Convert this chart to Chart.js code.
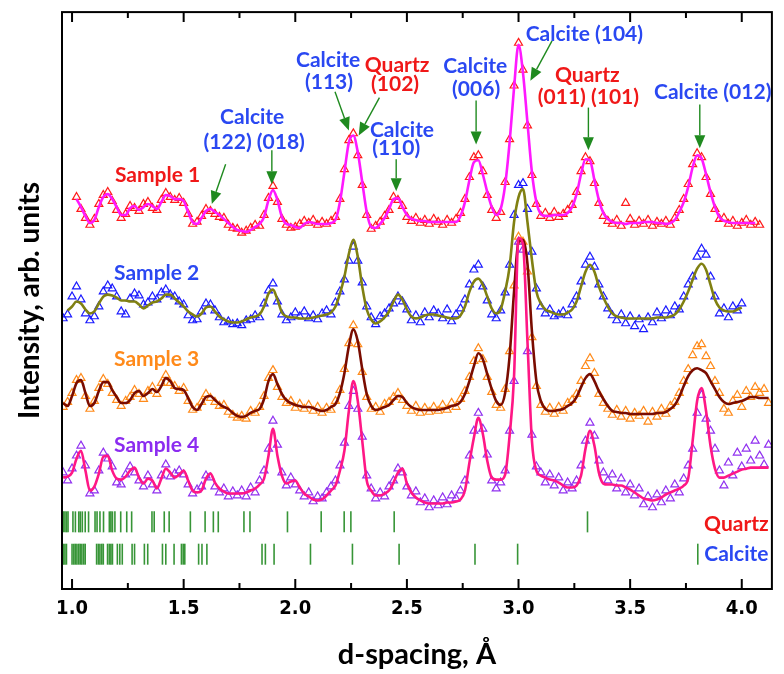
<!DOCTYPE html>
<html>
<head>
<meta charset="utf-8">
<title>XRD patterns</title>
<script src="https://cdn.jsdelivr.net/npm/chart.js@4.4.0/dist/chart.umd.min.js"></script>
<style>
  html, body { margin: 0; padding: 0; background: #fff; }
</style>
</head>
<body>
<canvas id="xrd" width="784" height="674"></canvas>
<script>
// scan grid: d = 0.96 + 0.02 * i  (i = 0..158)
var dStart = 0.96;
var dStep = 0.02;

// vertical offset of each pattern (arb. units)
var offsets = [354, 264, 169, 79];

// Sample 1 : observed / fit
var s1Obs = [
  null,null,null,40,28,19,12,18,33,42,
  45,36,27,19,23,31,29,26,33,35,
  29,27,37,44,40,37,39,34,23,13,
  15,21,28,26,23,20,19,12,9,8,
  4,6,9,12,11,22,39,51,35,18,
  12,9,10,13,16,14,17,12,15,13,
  16,20,38,68,97,104,82,52,22,8,
  11,15,21,27,40,37,31,20,16,19,
  14,17,13,18,15,12,17,14,18,24,
  38,60,80,82,66,42,27,19,25,55,
  98,152,195,168,112,62,33,21,24,19,
  25,20,23,27,32,45,66,80,76,54,
  34,21,16,13,17,11,34,18,12,16,
  13,17,11,15,13,16,12,19,27,38,
  53,73,84,80,60,43,28,18,19,13,
  16,11,14,17,12,15,12,null,null
];
var s1Fit = [
  null,null,null,38,30,21,14,17,30,40,
  43,38,30,22,22,29,31,27,30,33,
  31,28,35,42,41,38,38,36,25,15,
  13,19,26,28,25,22,18,14,10,7,
  6,5,7,10,13,20,37,47,37,20,
  13,12,10,9,13,15,14,13,13,13,
  14,17,35,65,95,102,85,55,25,10,
  9,13,19,28,38,39,30,22,18,17,
  16,16,15,15,15,15,15,15,15,21,
  35,57,75,77,63,45,30,22,28,52,
  95,150,193,165,115,65,35,23,21,21,
  22,22,22,24,30,43,63,78,77,57,
  37,24,18,15,14,14,13,14,14,14,
  15,15,15,14,14,13,14,17,25,35,
  50,70,82,79,63,45,30,20,16,15,
  14,14,14,14,14,14,null,null,null
];

// Sample 2
var s2Obs = [
  8,12,30,40,27,13,6,10,20,35,
  41,38,30,15,12,28,33,31,22,24,
  30,27,34,37,32,30,25,22,11,6,
  7,15,23,22,16,9,4,5,2,3,
  1,6,7,11,9,23,36,43,25,12,
  6,9,14,10,15,8,11,7,13,16,
  12,24,35,47,66,80,66,44,20,9,
  2,10,13,18,23,30,25,17,6,11,
  4,14,9,16,13,8,17,5,12,18,
  27,42,57,62,40,26,12,8,16,34,
  62,112,142,144,118,75,38,20,13,17,
  10,12,15,11,22,30,45,62,70,60,
  42,30,18,11,6,12,3,10,0,7,
  -3,9,4,14,8,16,11,20,17,30,
  42,50,70,78,72,50,30,13,18,9,
  20,16,23,null,null,null,null,null,null
];
var s2Fit = [
  null,16,20,25,23,17,13,15,23,30,
  32,31,29,26,26,25,25,22,18,21,
  24,25,28,32,32,28,24,20,15,12,
  10,13,19,20,15,10,7,5,4,4,
  5,7,9,10,12,20,33,37,27,14,
  10,9,9,8,8,8,9,10,11,12,
  14,20,33,50,73,87,70,40,17,7,
  3,5,9,15,25,32,27,17,10,8,
  9,11,12,12,11,10,9,8,8,11,
  20,35,45,48,42,30,18,13,17,35,
  60,105,130,138,105,67,35,23,17,15,
  13,12,12,14,17,25,40,55,62,55,
  40,29,20,13,10,9,8,8,8,8,
  8,8,8,9,9,9,10,12,17,25,
  35,47,58,63,57,42,27,19,16,15,
  15,17,19,null,null,null,null,null,null
];

// Sample 3
var s3Obs = [
  14,19,28,41,43,25,12,20,33,42,
  37,28,21,15,20,24,31,27,22,30,
  34,27,38,46,38,35,30,33,20,11,
  13,19,27,23,19,15,16,9,6,3,
  5,2,10,8,14,25,43,51,34,24,
  18,20,13,17,12,16,10,14,8,13,
  11,20,31,52,78,96,77,49,24,12,
  14,9,17,19,24,28,21,15,10,15,
  8,13,9,14,10,16,11,18,14,22,
  30,44,60,73,62,44,29,16,13,32,
  70,136,185,180,150,84,35,16,9,13,
  7,14,10,18,21,27,40,55,63,48,
  27,18,12,6,11,4,10,2,8,5,
  10,-1,9,4,12,7,15,19,28,40,
  52,66,75,77,65,55,40,28,12,8,
  20,26,14,30,24,34,28,32,18
];
var s3Fit = [
  18,15,25,38,41,28,15,18,30,39,
  39,31,24,18,18,21,28,30,25,28,
  32,29,35,43,40,33,32,31,23,14,
  11,17,24,25,21,17,14,12,8,5,
  4,5,8,10,12,22,40,47,37,27,
  21,18,16,15,14,14,13,11,10,11,
  14,17,28,48,75,92,80,52,27,15,
  11,12,14,16,21,25,24,18,14,12,
  11,11,11,11,11,12,13,15,16,19,
  27,40,55,68,62,47,32,20,16,28,
  65,130,180,182,158,90,40,20,12,10,
  10,11,12,15,18,24,34,43,47,40,
  30,22,15,10,9,8,8,7,7,7,
  7,7,7,8,8,9,12,16,24,35,
  45,51,53,51,48,40,32,24,19,17,
  18,19,20,22,24,24,23,23,23
];

// Sample 4
var s4Obs = [
  38,30,42,55,65,45,17,20,40,58,
  52,44,28,26,36,44,38,30,24,35,
  26,20,35,46,34,37,40,36,26,17,
  21,24,35,33,24,18,22,14,19,15,
  20,14,23,18,30,40,62,90,66,38,
  25,33,26,20,14,18,9,14,12,18,
  24,30,45,68,105,120,102,74,35,22,
  12,18,14,24,30,42,38,24,15,19,
  8,12,3,10,5,13,6,15,12,20,
  30,55,80,98,82,56,30,22,28,40,
  80,130,270,262,160,76,44,38,28,36,
  25,33,20,28,22,30,45,70,88,75,
  50,38,30,36,22,32,18,26,15,22,
  6,14,3,16,8,20,12,26,18,32,
  45,62,98,116,92,80,62,40,25,48,
  35,58,44,62,50,70,55,46,66
];
var s4Fit = [
  33,34,38,52,60,40,20,24,37,54,
  55,40,32,31,34,40,43,33,27,32,
  30,22,32,42,38,33,36,40,30,20,
  18,20,32,37,28,22,19,17,17,17,
  17,18,20,22,26,32,55,82,55,35,
  27,29,30,23,17,14,11,10,11,15,
  20,25,40,60,100,130,110,70,30,20,
  15,15,17,20,28,38,42,27,18,13,
  10,8,7,7,7,7,8,8,9,11,
  20,48,73,93,77,50,33,31,31,36,
  75,135,274,268,170,70,40,35,33,31,
  30,28,25,23,23,25,35,62,80,65,
  38,27,26,26,25,25,23,21,18,15,
  12,11,10,11,13,16,18,20,22,25,
  32,70,110,123,100,65,42,33,33,35,
  37,39,41,42,43,43,43,43,43
];

// reference reflections (d-spacing, Å)
var quartzD = [0.957,0.960,0.968,0.975,0.982,1.004,1.015,1.030,1.037,1.046,1.059,1.074,
  1.103,1.112,1.125,1.141,1.167,1.174,1.181,1.192,1.218,1.245,1.267,1.358,1.368,1.413,
  1.435,1.530,1.596,1.633,1.655,1.770,1.797,1.965,2.116,2.219,2.249,2.443,3.309];
var calciteD = [0.957,0.960,0.968,0.975,1.000,1.008,1.015,1.022,1.030,1.037,1.044,1.052,
  1.059,1.110,1.118,1.125,1.133,1.140,1.159,1.167,1.174,1.181,1.203,1.214,1.225,1.269,
  1.280,1.324,1.339,1.405,1.420,1.457,1.490,1.498,1.505,1.567,1.582,1.604,1.851,1.866,
  1.905,2.068,2.256,2.465,2.805,2.996,3.803];

var xTickLabels = ['1.0', '1.5', '2.0', '2.5', '3.0', '3.5', '4.0'];

var BLUE = '#2a48f2', RED = '#f01818', GREEN = '#1f8a1f';

// text labels: [text, d, intensity, colour]
var notes = [
  ['Sample 1', 1.383, 416, RED],
  ['Sample 2', 1.379, 317, BLUE],
  ['Sample 3', 1.379, 231, '#ff8a1a'],
  ['Sample 4', 1.379, 145, '#8b2cf0'],
  ['Calcite', 1.807, 474, BLUE],
  ['(122) (018)', 1.816, 449, BLUE],
  ['Calcite', 2.147, 532, BLUE],
  ['(113)', 2.151, 509, BLUE],
  ['Quartz', 2.456, 527, RED],
  ['(102)', 2.447, 507, RED],
  ['Calcite', 2.478, 461, BLUE],
  ['(110)', 2.452, 443, BLUE],
  ['Calcite', 2.806, 526, BLUE],
  ['(006)', 2.810, 502, BLUE],
  ['Calcite (104)', 3.295, 558, BLUE],
  ['Quartz', 3.308, 517, RED],
  ['(011) (101)', 3.313, 494, RED],
  ['Calcite (012)', 3.870, 499, BLUE],
  ['Quartz', 3.976, 65, RED],
  ['Calcite', 3.976, 35, BLUE]
];
// arrows: [d from, I from, d to, I to]
var arrows = [
  [1.688, 427, 1.626, 387],
  [1.895, 441, 1.895, 407],
  [2.178, 500, 2.240, 461],
  [2.377, 494, 2.284, 456],
  [2.452, 432, 2.452, 400],
  [2.810, 491, 2.810, 447],
  [3.150, 551, 3.053, 511],
  [3.313, 484, 3.313, 441],
  [3.812, 487, 3.812, 443]
];

function pattern(values, offset) {
  var pts = [];
  values.forEach(function (v, i) {
    if (v === null) return;
    pts.push({x: +(dStart + i * dStep).toFixed(2), y: offset + v});
  });
  return pts;
}

function obsSet(values, k, colour) {
  return {
    data: pattern(values, offsets[k]),
    showLine: false,
    pointStyle: 'triangle',
    pointRadius: 4.6,
    pointBorderWidth: 1.2,
    pointBorderColor: colour,
    pointBackgroundColor: 'rgba(0,0,0,0)',
    order: 10 - k
  };
}

function fitSet(values, k, colour) {
  return {
    data: pattern(values, offsets[k]),
    borderColor: colour,
    borderWidth: 2.6,
    pointRadius: 0,
    cubicInterpolationMode: 'monotone',
    order: 4 - k
  };
}

function barSet(list, level) {
  return {
    data: list.map(function (d) { return {x: d, y: level}; }),
    showLine: false,
    pointStyle: 'line',
    pointRotation: 90,
    pointRadius: 10.5,
    pointBorderWidth: 1.6,
    pointBorderColor: 'rgba(20,130,20,0.85)',
    order: 20
  };
}

var decorations = {
  id: 'decorations',
  afterDatasetsDraw: function (chart) {
    var ctx = chart.ctx, a = chart.chartArea, x = chart.scales.x, y = chart.scales.y;
    ctx.save();
    ctx.strokeStyle = '#000';
    ctx.lineWidth = 2;
    ctx.strokeRect(a.left, a.top, a.right - a.left, a.bottom - a.top);
    for (var q = 4; q <= 16; q++) {
      var px = x.getPixelForValue(q / 4);
      var len = q % 2 === 0 ? 10 : 6;
      ctx.beginPath();
      ctx.moveTo(px, a.bottom); ctx.lineTo(px, a.bottom - len);
      ctx.moveTo(px, a.top); ctx.lineTo(px, a.top + len);
      ctx.stroke();
    }

    ctx.strokeStyle = GREEN;
    ctx.fillStyle = GREEN;
    ctx.lineWidth = 1.4;
    arrows.forEach(function (r) {
      var x1 = x.getPixelForValue(r[0]), y1 = y.getPixelForValue(r[1]);
      var x2 = x.getPixelForValue(r[2]), y2 = y.getPixelForValue(r[3]);
      var ang = Math.atan2(y2 - y1, x2 - x1);
      var hl = 13, hw = 5.5;
      var bx = x2 - hl * Math.cos(ang), by = y2 - hl * Math.sin(ang);
      ctx.beginPath();
      ctx.moveTo(x1, y1); ctx.lineTo(bx, by);
      ctx.stroke();
      ctx.beginPath();
      ctx.moveTo(x2, y2);
      ctx.lineTo(bx + hw * Math.sin(ang), by - hw * Math.cos(ang));
      ctx.lineTo(bx - hw * Math.sin(ang), by + hw * Math.cos(ang));
      ctx.closePath();
      ctx.fill();
    });

    ctx.font = 'bold 21px Lato';
    ctx.textAlign = 'center';
    ctx.textBaseline = 'middle';
    notes.forEach(function (n) {
      ctx.fillStyle = n[3];
      ctx.fillText(n[0], x.getPixelForValue(n[1]), y.getPixelForValue(n[2]));
    });
    ctx.restore();
  }
};

new Chart(document.getElementById('xrd'), {
  type: 'line',
  data: {
    datasets: [
      fitSet(s1Fit, 0, '#ff19ff'),
      fitSet(s2Fit, 1, '#808012'),
      fitSet(s3Fit, 2, '#7a0c00'),
      fitSet(s4Fit, 3, '#ff1785'),
      obsSet(s1Obs, 0, '#ff1a1a'),
      obsSet(s2Obs, 1, '#1a1aff'),
      obsSet(s3Obs, 2, '#ff8a1a'),
      obsSet(s4Obs, 3, '#9030f0'),
      barSet(quartzD, 67.5),
      barSet(calciteD, 35)
    ]
  },
  options: {
    responsive: false,
    animation: false,
    events: [],
    layout: { padding: { top: 9, right: 2, left: 0, bottom: 0 } },
    plugins: { legend: { display: false }, tooltip: { enabled: false } },
    scales: {
      x: {
        type: 'linear',
        min: 0.955,
        max: 4.135,
        grid: { display: false, drawTicks: false },
        border: { display: false },
        ticks: {
          stepSize: 0.5,
          includeBounds: false,
          padding: 8,
          color: '#000',
          font: { family: '"Liberation Sans Narrow", "DejaVu Sans Condensed", sans-serif', weight: 'bold', size: 20 },
          callback: function (v) { return xTickLabels[Math.round((v - 1) * 2)] || ''; }
        },
        title: {
          display: true,
          text: 'd-spacing, Å',
          color: '#000',
          font: { family: 'Lato', weight: 'bold', size: 29 },
          padding: { top: 2, bottom: 2 }
        },
        afterFit: function (s) { s.height = 85; }
      },
      y: {
        min: 0,
        max: 580,
        grid: { display: false, drawTicks: false },
        border: { display: false },
        ticks: { display: false },
        title: {
          display: true,
          text: 'Intensity, arb. units',
          color: '#000',
          font: { family: 'Lato', weight: 'bold', size: 28 },
          padding: { top: 13, bottom: 0 }
        },
        afterFit: function (s) { s.width = 62; }
      }
    }
  },
  plugins: [decorations]
});
</script>
</body>
</html>
